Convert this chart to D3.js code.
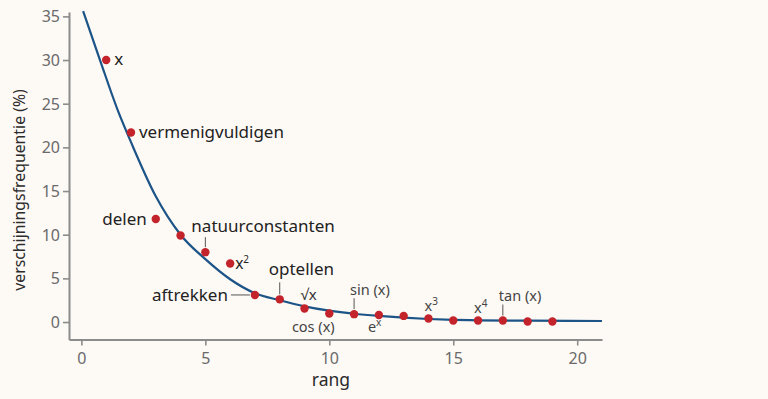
<!DOCTYPE html>
<html>
<head>
<meta charset="utf-8">
<script src="https://cdn.jsdelivr.net/npm/d3@7"></script>
<style>
  html, body { margin: 0; padding: 0; background: #fdf9f5; }
  svg { display: block; }
  text { font-family: "Noto Sans", "Open Sans", sans-serif; }
</style>
</head>
<body>
<div id="chart"></div>
<script>
var width = 768,
    height = 399;

// data
var ranks = [1, 2, 3, 4, 5, 6, 7, 8, 9, 10, 11, 12, 13, 14, 15, 16, 17, 18, 19];
var freqs = [30.0, 21.7, 11.8, 9.9, 8.0, 6.7, 3.1, 2.6, 1.55, 0.97, 0.9, 0.8, 0.7, 0.4, 0.17, 0.17, 0.17, 0.06, 0.06];
var names = ["x", "vermenigvuldigen", "delen", "", "natuurconstanten", "x²", "aftrekken", "optellen",
             "√x", "cos (x)", "sin (x)", "eˣ", "", "x³", "", "x⁴", "tan (x)", "", ""];

// fitted curve
var curveRanks = [0.07, 0.75, 1.5, 2, 3, 4, 5, 6, 7, 8, 9, 10, 11, 12, 13, 14, 15, 16, 18, 21];
var curveFreqs = [35.6, 30.0, 24.0, 20.6, 14.4, 10.0, 7.2, 4.9, 3.3, 2.5, 1.8, 1.3, 0.95, 0.7, 0.5, 0.35, 0.25, 0.2, 0.15, 0.12];

var xTicks = [0, 5, 10, 15, 20];
var yTicks = [0, 5, 10, 15, 20, 25, 30, 35];

var x = d3.scaleLinear().domain([-0.5, 21]).range([69, 602]);
var y = d3.scaleLinear().domain([-2, 35.5]).range([339.5, 12]);

var svg = d3.select("#chart").append("svg")
    .attr("width", width)
    .attr("height", height);

svg.append("rect").attr("width", width).attr("height", height).attr("fill", "#fdf9f5");

var axisColor = "#8c8c8c";

var gx = svg.append("g")
    .attr("transform", "translate(0," + y.range()[0] + ")")
    .call(d3.axisBottom(x).tickValues(xTicks).tickSize(6).tickSizeOuter(0).tickPadding(5));
var gy = svg.append("g")
    .attr("transform", "translate(" + x.range()[0] + ",0)")
    .call(d3.axisLeft(y).tickValues(yTicks).tickSize(6).tickSizeOuter(0).tickPadding(3));

[gx, gy].forEach(function(g) {
    g.select(".domain").attr("stroke", axisColor).attr("stroke-width", 2);
    g.selectAll(".tick line").attr("stroke", axisColor).attr("stroke-width", 1.6);
    g.selectAll(".tick text")
        .attr("fill", "#6a6a6a")
        .style("font-size", "16px")
        .style("font-family", "'Noto Sans', sans-serif");
});
gy.selectAll(".tick text").attr("dy", "0.34em");
gx.selectAll(".tick text").attr("dy", "0.85em");

// axis titles
svg.append("text")
    .attr("x", 331).attr("y", 386)
    .attr("text-anchor", "middle")
    .attr("fill", "#2b2b2b")
    .style("font-size", "17.5px")
    .text("rang");

svg.append("text")
    .attr("transform", "translate(25," + 190 + ") rotate(-90)")
    .attr("text-anchor", "middle")
    .attr("fill", "#2b2b2b")
    .style("font-size", "15.8px")
    .text("verschijningsfrequentie (%)");

// curve
var line = d3.line()
    .x(function(d, i) { return x(curveRanks[i]); })
    .y(function(d, i) { return y(curveFreqs[i]); })
    .curve(d3.curveMonotoneX);

svg.append("path")
    .datum(curveRanks)
    .attr("d", line)
    .attr("fill", "none")
    .attr("stroke", "#1c5487")
    .attr("stroke-width", 2.2);

// points
svg.selectAll("circle.pt")
    .data(ranks)
    .enter().append("circle")
    .attr("class", "pt")
    .attr("cx", function(d) { return x(d); })
    .attr("cy", function(d, i) { return y(freqs[i]); })
    .attr("r", 4.2)
    .attr("fill", "#c3232b");

// label layout: dx, dy from the point, anchor, leader line, size, colour
var layout = {
    1:  { dx: 8,   dy: 5,   anchor: "start", size: 17, color: "#222" },
    2:  { dx: 8,   dy: 5,   anchor: "start", size: 17, color: "#222" },
    3:  { dx: -9,  dy: 6,   anchor: "end",   size: 17, color: "#222" },
    5:  { dx: -14, dy: -20, anchor: "start", size: 17, color: "#222", lead: [0, -5, 0, -15] },
    6:  { dx: 5,   dy: 5,   anchor: "start", size: 15.5, color: "#222" },
    7:  { dx: -27, dy: 6,   anchor: "end",   size: 17, color: "#222", lead: [-5, 0, -24, 0] },
    8:  { dx: -11, dy: -24, anchor: "start", size: 17, color: "#222", lead: [0, -5, 0, -17] },
    9:  { dx: -4,  dy: -8,  anchor: "start", size: 15, color: "#333" },
    10: { dx: -16, dy: 18,  anchor: "middle",size: 14.5, color: "#444" },
    11: { dx: -4,  dy: -19, anchor: "start", size: 14.5, color: "#444", lead: [0, -5, 0, -16] },
    12: { dx: -11, dy: 17,  anchor: "start", size: 14.5, color: "#444" },
    14: { dx: -4,  dy: -8,  anchor: "start", size: 14.5, color: "#444" },
    16: { dx: -4,  dy: -8,  anchor: "start", size: 14.5, color: "#444" },
    17: { dx: -4,  dy: -20, anchor: "start", size: 14.5, color: "#444", lead: [0, -5, 0, -16] }
};

ranks.forEach(function(r, i) {
    var L = layout[r];
    if (!L || !names[i]) return;
    var px = x(r), py = y(freqs[i]);
    if (L.lead) {
        svg.append("line")
            .attr("x1", px + L.lead[0]).attr("y1", py + L.lead[1])
            .attr("x2", px + L.lead[2]).attr("y2", py + L.lead[3])
            .attr("stroke", "#555").attr("stroke-width", 1);
    }
    var t = svg.append("text")
        .attr("x", px + L.dx).attr("y", py + L.dy)
        .attr("text-anchor", L.anchor)
        .attr("fill", L.color)
        .style("font-size", L.size + "px");
    var sup = names[i].match(/^(.)([²³⁴ˣ])$/);
    if (sup) {
        var map = { "²": "2", "³": "3", "⁴": "4", "ˣ": "x" };
        t.append("tspan").text(sup[1]);
        t.append("tspan").attr("dy", -6).style("font-size", "10px").text(map[sup[2]]);
    } else {
        t.text(names[i]);
    }
});
</script>
</body>
</html>
